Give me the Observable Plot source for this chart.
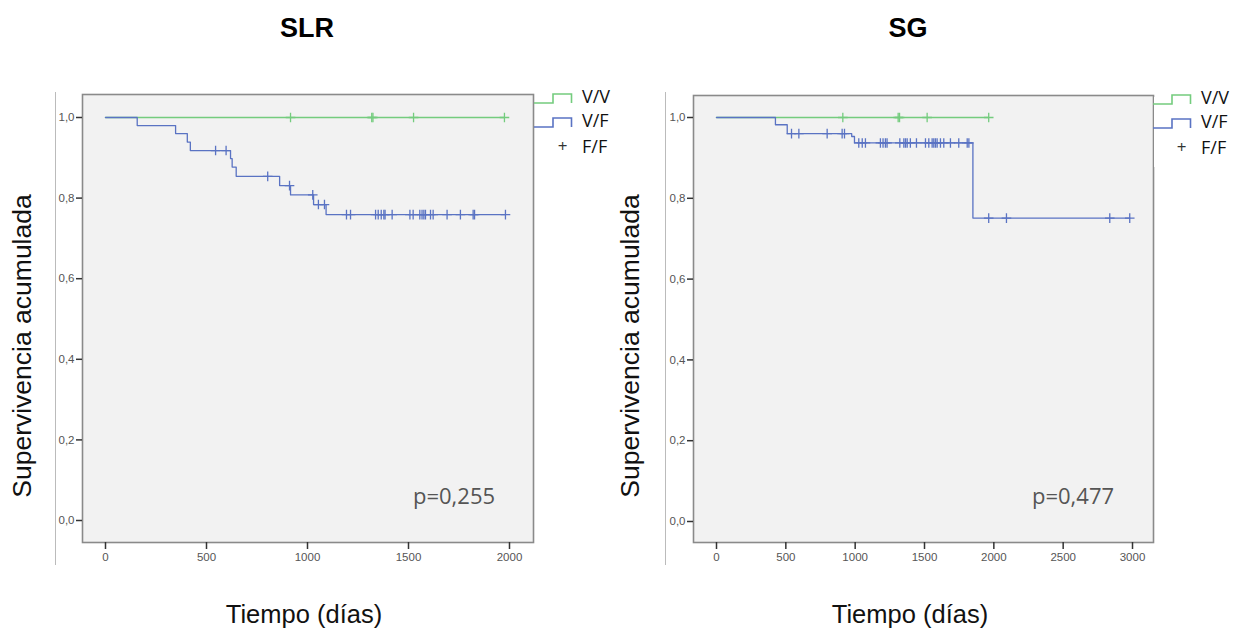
<!DOCTYPE html>
<html>
<head>
<meta charset="utf-8">
<script src="https://cdn.jsdelivr.net/npm/d3@7"></script>
<script src="https://cdn.jsdelivr.net/npm/@observablehq/plot@0.6"></script>
<style>
  html,body{margin:0;padding:0;background:#fff;}
  #wrap{position:relative;width:1245px;height:630px;overflow:hidden;font-family:"Liberation Sans",Arial,sans-serif;}
  .abs{position:absolute;}
  .title{font-weight:bold;font-size:27px;color:#000;transform:translate(-50%,-50%);white-space:nowrap;}
  .xlab{font-size:25.5px;color:#111;transform:translate(-50%,-50%);white-space:nowrap;}
  .ylab{font-size:26.5px;color:#111;transform:translate(-50%,-50%) rotate(-90deg);white-space:nowrap;}
  .pval{font-family:"Open Sans",sans-serif;font-size:22px;color:#555;white-space:nowrap;}
  .vline{width:1px;background:#bbb;}
</style>
</head>
<body>
<div id="wrap"></div>
<script>
// ---------- data ----------
const groups = ["V/V", "V/F", "F/F"];
const colors = ["#74cc7e", "#5a73c3"];

// SLR (left)
const slrVVTimes = [0, 1975];
const slrVVSurv  = [1.0, 1.0];
const slrVVCens  = [916, 1318, 1324, 1525, 1975];
const slrVFTimes = [0, 157, 347, 405, 420, 619, 627, 647, 862, 916, 1030, 1092, 1980];
const slrVFSurv  = [1.0, 0.980, 0.960, 0.939, 0.918, 0.898, 0.877, 0.854, 0.831, 0.808, 0.784, 0.759, 0.759];
const slrVFCens  = [545, 597, 803, 911, 1026, 1054, 1084, 1193, 1213, 1337, 1350, 1365, 1378, 1384, 1419,
                    1507, 1523, 1556, 1567, 1576, 1584, 1609, 1622, 1691, 1757, 1820, 1827, 1980];
const slrXTicks = [0, 500, 1000, 1500, 2000];
const slrP = "p=0,255";

// SG (right)
const sgVVTimes = [0, 1963];
const sgVVSurv  = [1.0, 1.0];
const sgVVCens  = [911, 1310, 1320, 1519, 1963];
const sgVFTimes = [0, 425, 510, 975, 995, 1849, 2980];
const sgVFSurv  = [1.0, 0.982, 0.960, 0.953, 0.937, 0.751, 0.751];
const sgVFCens  = [541, 594, 798, 906, 923, 1026, 1051, 1074, 1182, 1201, 1218, 1230, 1322, 1351, 1363,
                   1375, 1398, 1442, 1507, 1531, 1555, 1567, 1579, 1591, 1615, 1639, 1687, 1747, 1808,
                   1820, 1963, 2091, 2836, 2980];
const sgXTicks = [0, 500, 1000, 1500, 2000, 2500, 3000];
const sgP = "p=0,477";

const yTicks = [0, 0.2, 0.4, 0.6, 0.8, 1.0];
const titles = ["SLR", "SG"];
const yLabel = "Supervivencia acumulada";
const xLabel = "Tiempo (días)";

// ---------- helpers ----------
function steps(times, surv){ return times.map((t,i)=>({t, s:surv[i]})); }
function survAt(times, surv, t){
  let v = surv[0];
  for (let i=0;i<times.length;i++){ if (times[i] <= t) v = surv[i]; }
  return v;
}
function cens(times, surv, cs){ return cs.map(t=>({t, s:survAt(times, surv, t)})); }

function panel(o){
  return Plot.plot({
    width:o.width, height:630,
    marginLeft:o.ml, marginRight:o.mr, marginTop:o.mt, marginBottom:o.mb,
    x:{domain:o.xdom},
    y:{domain:o.ydom},
    style:{fontFamily:"'Liberation Sans', Arial, sans-serif", fontSize:"11.5px", color:"#555", background:"transparent", overflow:"visible"},
    marks:[
      Plot.frame({fill:"#f2f2f2", stroke:"#8a8a8a", strokeWidth:1.6}),
      Plot.axisY({ticks:yTicks, tickFormat:d=>d.toFixed(1).replace(".", ","), tickSize:6, tickPadding:2, label:null, stroke:"#333", strokeWidth:1.5}),
      Plot.axisX({ticks:o.xticks, tickFormat:d=>String(d), tickSize:7, tickPadding:3, label:null, stroke:"#333", strokeWidth:1.5}),
      Plot.line(steps(o.vvT, o.vvS), {x:"t", y:"s", curve:"step-after", stroke:colors[0], strokeWidth:1.5}),
      Plot.line(steps(o.vfT, o.vfS), {x:"t", y:"s", curve:"step-after", stroke:colors[1], strokeWidth:1.3}),
      Plot.dot(cens(o.vvT, o.vvS, o.vvC), {x:"t", y:"s", symbol:"plus", r:3.2, stroke:colors[0], strokeWidth:1.3}),
      Plot.dot(cens(o.vfT, o.vfS, o.vfC), {x:"t", y:"s", symbol:"plus", r:3.2, stroke:colors[1], strokeWidth:1.3})
    ]
  });
}

const wrap = document.getElementById("wrap");
function place(el, left, top){ el.style.position="absolute"; el.style.left=left+"px"; el.style.top=top+"px"; wrap.appendChild(el); return el; }
function div(cls, text, left, top){ const d=document.createElement("div"); d.className="abs "+cls; d.textContent=text; d.style.left=left+"px"; d.style.top=top+"px"; wrap.appendChild(d); return d; }

// left panel: frame x 82..533 (page), 0 at 105, 0.202 px/day; y 1.0 at 117, 0 at 520
const left = panel({width:622, ml:82, mr:89, mt:94, mb:88,
  xdom:[(82-105)/0.202, (533-105)/0.202], ydom:[(520-542)/403, (520-94)/403],
  xticks:slrXTicks, vvT:slrVVTimes, vvS:slrVVSurv, vvC:slrVVCens, vfT:slrVFTimes, vfS:slrVFSurv, vfC:slrVFCens});
place(left, 0, 0);

// right panel: frame 693..1153 (page), 0 at 716, 0.13867 px/day; y 1.0 at 117, 0 at 521
const right = panel({width:623, ml:71, mr:92, mt:95, mb:88,
  xdom:[(693-716)/0.13867, (1153-716)/0.13867], ydom:[(521-542)/404, (521-95)/404],
  xticks:sgXTicks, vvT:sgVVTimes, vvS:sgVVSurv, vvC:sgVVCens, vfT:sgVFTimes, vfS:sgVFSurv, vfC:sgVFCens});
place(right, 622, 0);

// outer thin lines
const l1 = document.createElement("div"); l1.className="vline"; l1.style.height="473px"; place(l1, 55, 92);
const l2 = document.createElement("div"); l2.className="vline"; l2.style.height="473px"; place(l2, 665, 92);

// titles & labels
div("title", titles[0], 307, 28);
div("title", titles[1], 908, 28);
div("ylab", yLabel, 22, 346);
div("ylab", yLabel, 630, 346);
div("xlab", xLabel, 304, 614);
div("xlab", xLabel, 910, 614);
div("pval", slrP, 413, 480);
div("pval", sgP, 1032, 480);

// legends
function legend(x0, yTop){
  const ns="http://www.w3.org/2000/svg";
  const svg=document.createElementNS(ns,"svg");
  svg.setAttribute("width",110); svg.setAttribute("height",75);
  svg.style.position="absolute"; svg.style.left=x0+"px"; svg.style.top=yTop+"px"; svg.style.overflow="visible";
  const bg=document.createElementNS(ns,"rect");
  bg.setAttribute("x",1); bg.setAttribute("y",3); bg.setAttribute("width",100); bg.setAttribute("height",70); bg.setAttribute("fill","#fff");
  svg.appendChild(bg);
  const rows=[{c:colors[0], y:0},{c:colors[1], y:24}];
  rows.forEach((r,i)=>{
    const p=document.createElementNS(ns,"path");
    p.setAttribute("d",`M0,${r.y+10} H19 V${r.y+1} H37.5 V${r.y+10}`);
    p.setAttribute("fill","none"); p.setAttribute("stroke",r.c); p.setAttribute("stroke-width",1.6);
    svg.appendChild(p);
    const t=document.createElementNS(ns,"text");
    t.setAttribute("x",48); t.setAttribute("y",r.y+10); t.textContent=groups[i];
    t.setAttribute("font-family","'Open Sans', sans-serif"); t.setAttribute("font-size","18"); t.setAttribute("fill","#111");
    svg.appendChild(t);
  });
  const plus=document.createElementNS(ns,"text");
  plus.setAttribute("x",28.5); plus.setAttribute("y",59); plus.setAttribute("text-anchor","middle");
  plus.setAttribute("font-family","'Open Sans', sans-serif"); plus.setAttribute("font-size","17"); plus.setAttribute("fill","#333");
  plus.textContent="+"; svg.appendChild(plus);
  const t3=document.createElementNS(ns,"text");
  t3.setAttribute("x",48); t3.setAttribute("y",60); t3.textContent=groups[2];
  t3.setAttribute("font-family","'Open Sans', sans-serif"); t3.setAttribute("font-size","18"); t3.setAttribute("fill","#111");
  svg.appendChild(t3);
  wrap.appendChild(svg);
}
legend(534, 93);
legend(1153, 94);
</script>
</body>
</html>
